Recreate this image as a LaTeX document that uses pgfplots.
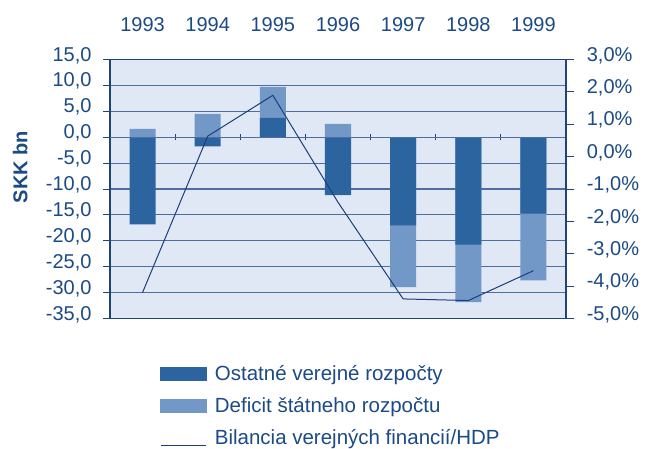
\documentclass[border=0pt]{standalone}
\usepackage{fontspec}
\setmainfont{Liberation Sans}
\usepackage{pgfplots}
\pgfplotsset{compat=1.18}
\definecolor{bgblue}{HTML}{E1E8F5}
\definecolor{darkbar}{HTML}{2C64A0}
\definecolor{lightbar}{HTML}{7198C6}
\definecolor{gridc}{HTML}{4D6F9E}
\definecolor{spine}{HTML}{1F4479}
\definecolor{txt}{HTML}{1B4A85}
\definecolor{linec}{HTML}{1A3F7A}
\pgfplotsset{
  base/.style={
    at={(110bp,130.3bp)}, anchor=south west, scale only axis,
    width=456bp, height=259.4bp,
    xmin=-0.5, xmax=6.5,
    axis line style={spine, line width=1.2bp},
    tick style={spine, line width=1bp},
    tick align=outside,
    ticklabel style={font=\fontsize{20bp}{24bp}\selectfont, text=txt},
    /pgf/number format/.cd, fixed, fixed zerofill, precision=1, use comma, assume math mode=true,
  },
}
\begin{document}
\begin{tikzpicture}
\useasboundingbox (0,0) rectangle (653bp,449bp);
% left axis with bars
\begin{axis}[base,
  ymin=-35, ymax=15, ytick={-35,-30,...,15},
  axis background/.style={fill=bgblue},
  ymajorgrids, grid style={gridc, line width=1.1bp},
  ytick pos=left, major tick length=7bp,
  yticklabel style={yshift=4bp, xshift=-8bp},
  xtick={0,...,6}, xticklabels={1993,1994,1995,1996,1997,1998,1999},
  xticklabel pos=upper, x tick style={draw=none},
  xticklabel style={anchor=center, yshift=27.5bp},
  ylabel={SKK bn},
  ylabel style={font=\fontsize{20bp}{24bp}\selectfont\bfseries, text=txt, at={(axis description cs:-0.197,0.585)}, anchor=center},
  legend style={at={(axis description cs:0.1096,-0.172)}, anchor=north west, draw=none, fill=none,
    font=\fontsize{20.5bp}{24.5bp}\selectfont, text=txt, row sep=11.5bp, inner sep=0pt,
    nodes={inner sep=2bp},
    /tikz/every odd column/.append style={column sep=6bp}},
  legend cell align=left,
]
\addlegendimage{legend image code/.code={\fill[darkbar] (0bp,-6.3bp) rectangle (45.7bp,6.3bp);}}
\addlegendentry{Ostatné verejné rozpočty}
\addlegendimage{legend image code/.code={\fill[lightbar] (0bp,-6.3bp) rectangle (45.7bp,6.3bp);}}
\addlegendentry{Deficit štátneho rozpočtu}
\addlegendimage{legend image code/.code={\draw[linec, line width=1bp] (0bp,-8bp) -- (45.7bp,-8bp);}}
\addlegendentry{Bilancia verejných financií/HDP}
\addplot[ybar, bar width=0.4, bar shift=0pt, fill=lightbar, draw=none, forget plot]
  coordinates {(0,1.6) (1,4.5) (2,9.7) (3,2.55) (4,-28.9) (5,-31.8) (6,-27.6)};
\addplot[ybar, bar width=0.4, bar shift=0pt, fill=darkbar, draw=none, forget plot]
  coordinates {(0,-16.8) (1,-1.8) (2,3.7) (3,-11.2) (4,-17.0) (5,-20.7) (6,-14.75)};
\end{axis}
% zero line ticks at category boundaries
\begin{axis}[base,
  ymin=-35, ymax=15,
  axis x line=middle, axis y line=none,
  axis line style={gridc, line width=1.1bp, -},
  xtick={0.5,1.5,...,5.5}, xticklabels={},
  major tick length=6bp, tick style={spine, line width=1bp},
]
\end{axis}
% right axis with line
\begin{axis}[base,
  ymin=-5, ymax=3, ytick={-5,-4,...,3},
  axis x line=none, axis y line*=right,
  major tick length=8.3bp,
  yticklabel={\pgfmathprintnumber{\tick}\%},
  yticklabel style={yshift=4bp, xshift=9bp},
]
\addplot[linec, line width=1bp, mark=none]
  coordinates {(0,-4.19) (1,0.63) (2,1.89) (3,-1.41) (4,-4.39) (5,-4.44) (6,-3.52)};
\end{axis}
\end{tikzpicture}
\end{document}
